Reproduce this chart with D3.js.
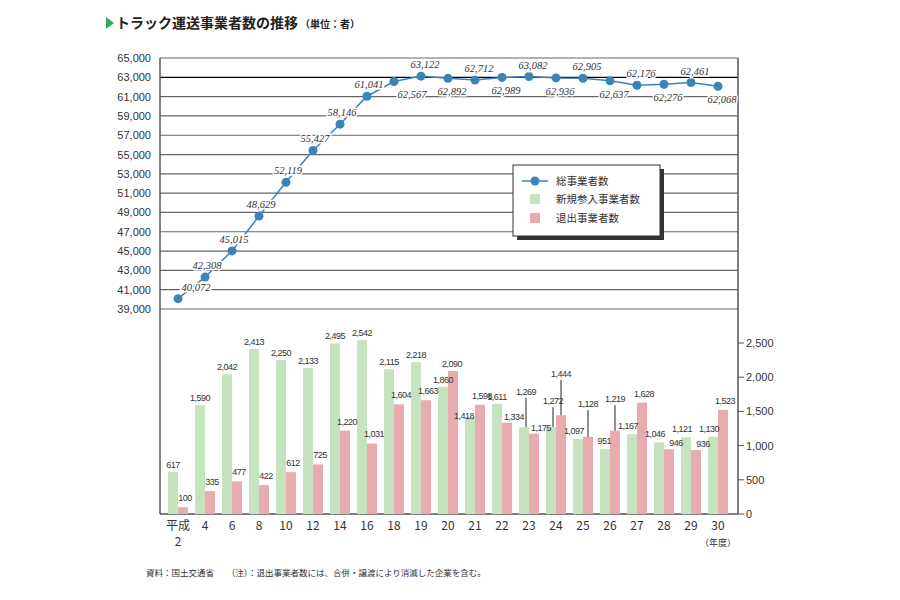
<!DOCTYPE html><html><head><meta charset="utf-8"><script src="https://cdn.jsdelivr.net/npm/d3@7"></script>
<style>body{margin:0;background:#fff;font-family:"Noto Sans CJK JP","Noto Sans",sans-serif}</style></head><body><svg id="c" width="900" height="600"></svg>
<script>
const categories=["2","4","6","8","10","12","14","16","18","19","20","21","22","23","24","25","26","27","28","29","30"];
const totalValues=[40072,42308,45015,48629,52119,55427,58146,61041,62567,63122,62892,62712,62989,63082,62936,62905,62637,62176,62276,62461,62068];
const newValues=[617,1590,2042,2413,2250,2133,2495,2542,2115,2218,1860,1418,1611,1269,1272,1097,951,1167,1046,1121,1130];
const exitValues=[100,335,477,422,612,725,1220,1031,1604,1663,2090,1598,1334,1175,1444,1128,1219,1628,946,936,1523];
const topTicks=d3.range(39000,65001,2000);
const bottomTicks=[0,500,1000,1500,2000,2500];
const svg=d3.select("#c");
const L=160,R=738;
const x=d3.scalePoint().domain(categories).range([178,718]);
const yT=d3.scaleLinear().domain([39000,65000]).range([309,58]);
const yB=d3.scaleLinear().domain([0,2500]).range([514,343]);
const f=d3.format(",");
svg.append("path").attr("d","M106,17 L114,23 L106,29 Z").attr("fill","#2eaa5a");
svg.append("text").attr("x",116).attr("y",28).attr("font-size",14).attr("font-weight","bold").attr("fill","#222").text("トラック運送事業者数の推移");
svg.append("text").attr("x",300).attr("y",28).attr("font-size",10).attr("font-weight","bold").attr("fill","#222").text("（単位：者）");
topTicks.forEach(t=>{svg.append("line").attr("x1",L).attr("x2",R).attr("y1",yT(t)).attr("y2",yT(t)).attr("stroke",t==63000?"#000":"#666").attr("stroke-width",1.2);
svg.append("text").attr("x",151).attr("y",yT(t)+4).attr("text-anchor","end").attr("font-size",11).attr("fill","#333").attr("font-family","Liberation Sans").text(f(t));});
svg.append("line").attr("x1",L).attr("x2",L).attr("y1",58).attr("y2",514).attr("stroke","#555").attr("stroke-width",1.5);
svg.append("line").attr("x1",R).attr("x2",R).attr("y1",58).attr("y2",514).attr("stroke","#555").attr("stroke-width",1.5);
svg.append("line").attr("x1",L).attr("x2",R).attr("y1",514).attr("y2",514).attr("stroke","#555").attr("stroke-width",1.5);
bottomTicks.forEach(t=>{svg.append("line").attr("x1",R).attr("x2",R+6).attr("y1",yB(t)).attr("y2",yB(t)).attr("stroke","#555");
svg.append("text").attr("x",746).attr("y",yB(t)+4).attr("font-size",11).attr("fill","#333").attr("font-family","Liberation Sans").text(f(t));});
const bw=10;
categories.forEach((c,i)=>{
 const cx=x(c);
 svg.append("rect").attr("x",cx-bw).attr("width",bw).attr("y",yB(newValues[i])).attr("height",514-yB(newValues[i])).attr("fill","#c5e3be");
 svg.append("rect").attr("x",cx).attr("width",bw).attr("y",yB(exitValues[i])).attr("height",514-yB(exitValues[i])).attr("fill","#e8abae");
});
const bl=(xx,yy,t,anchor)=>svg.append("text").attr("x",xx).attr("y",yy).attr("text-anchor",anchor||"middle").attr("font-size",9).attr("fill","#333").attr("font-family","Liberation Sans Narrow, Liberation Sans").attr("letter-spacing",-0.5).text(t);
const leadN={13:1700,14:1560};const leadE={14:1960,15:1520,16:1590};
categories.forEach((c,i)=>{
 const cx=x(c);
 let gv=newValues[i],ev=exitValues[i];
 if(leadN[i]){svg.append("line").attr("x1",cx-3).attr("x2",cx-3).attr("y1",yB(gv)).attr("y2",yB(leadN[i])).attr("stroke","#222");bl(cx-3,yB(leadN[i])-3,f(gv));}
 else if(i==11) bl(cx-9,yB(gv)+2,f(gv),"end").attr("x",cx-1);
 else if(i>=15) bl(cx+1,yB(gv)-5,f(gv),"end");
 else bl(cx-5,yB(gv)-4,f(gv));
 if(leadE[i]){svg.append("line").attr("x1",cx+5).attr("x2",cx+5).attr("y1",yB(ev)).attr("y2",yB(leadE[i])).attr("stroke","#222");bl(cx+5,yB(leadE[i])-3,f(ev));}
 else if(i==10) bl(cx+4,yB(ev)-4,f(ev));
 else if(ev<gv&&i>=12) bl(cx+12,yB(ev)-3,f(ev));
 else bl(cx+7,yB(ev)-6,f(ev));
});
categories.forEach((c,i)=>{svg.append("text").attr("x",x(c)).attr("y",530).attr("text-anchor","middle").attr("font-size",12).attr("fill","#333").text(i==0?"平成":c);});
svg.append("text").attr("x",x("2")).attr("y",546).attr("text-anchor","middle").attr("font-size",12).attr("fill","#333").text("2");
svg.append("text").attr("x",x("30")).attr("y",546).attr("text-anchor","middle").attr("font-size",9).attr("fill","#333").text("（年度）");
svg.append("path").datum(totalValues).attr("d",d3.line().x((d,i)=>x(categories[i])).y(d=>yT(d))).attr("fill","none").attr("stroke","#3a84b8").attr("stroke-width",1.5);
totalValues.forEach((v,i)=>{const px=x(categories[i]),py=yT(v);
 svg.append("circle").attr("cx",px).attr("cy",py).attr("r",4.5).attr("fill","#3a84b8");
 const above=i<8||(i-8)%2==1;
 const dx=i<8?(i==0?18:2):(i==8?18:4);
 svg.append("text").attr("x",px+dx).attr("y",above?py-8:py+17).attr("text-anchor","middle").attr("font-size",10.5).attr("font-style","italic").attr("font-family","Liberation Serif").attr("fill","#333").text(f(v)).attr("stroke","#fff").attr("stroke-width",3).attr("paint-order","stroke");
});
svg.append("rect").attr("x",517).attr("y",169).attr("width",147).attr("height",71).attr("fill","#333");
svg.append("rect").attr("x",513).attr("y",165).attr("width",147).attr("height",71).attr("fill","#fff").attr("stroke","#333");
svg.append("line").attr("x1",522).attr("x2",548).attr("y1",181).attr("y2",181).attr("stroke","#3a84b8").attr("stroke-width",1.5);
svg.append("circle").attr("cx",535).attr("cy",181).attr("r",4.5).attr("fill","#3a84b8");
svg.append("rect").attr("x",530).attr("y",194).attr("width",10).attr("height",10).attr("fill","#c5e3be");
svg.append("rect").attr("x",530).attr("y",213).attr("width",10).attr("height",10).attr("fill","#e8abae");
[["総事業者数",185],["新規参入事業者数",203],["退出事業者数",222]].forEach(d=>svg.append("text").attr("x",556).attr("y",d[1]).attr("font-size",10.5).attr("fill","#333").text(d[0]));
svg.append("text").attr("x",146).attr("y",576).attr("font-size",8.5).attr("fill","#333").text("資料：国土交通省　　（注）：退出事業者数には、合併・譲渡により消滅した企業を含む。");
</script></body></html>
